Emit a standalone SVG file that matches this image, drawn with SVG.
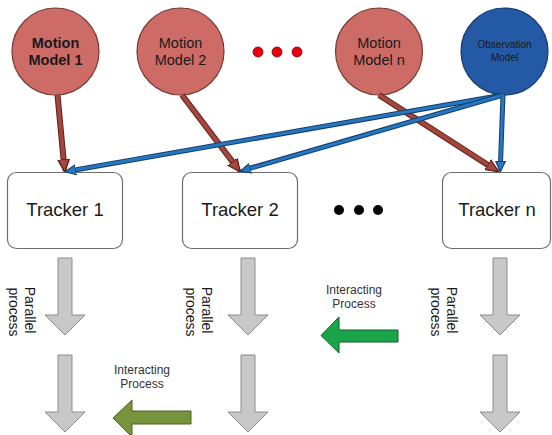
<svg xmlns="http://www.w3.org/2000/svg" width="552" height="435" viewBox="0 0 552 435">
  <style>
    text { font-family: "Liberation Sans", Arial, sans-serif; fill: #1a1a1a; }
    .motion { fill: #cd6c67; stroke: #7b3934; stroke-width: 1.2; }
    .obs { fill: #2459a6; stroke: #1a3b70; stroke-width: 1.2; }
    .mlabel { font-size: 14.5px; text-anchor: middle; }
    .olabel { font-size: 10px; text-anchor: middle; }
    .tracker { fill: #ffffff; stroke: #6e6e6e; stroke-width: 1.2; }
    .tlabel { font-size: 18.5px; text-anchor: middle; }
    .gray { fill: #c8c8c8; stroke: #8c8c8c; stroke-width: 1; }
    .plabel { font-size: 14px; text-anchor: middle; }
    .ilabel { font-size: 12px; text-anchor: middle; fill: #333; }
    .brown-o { stroke: #5a201a; stroke-width: 6; fill: none; }
    .brown-i { stroke: #a4463c; stroke-width: 4; fill: none; }
    .blue-o { stroke: #123e6a; stroke-width: 5; fill: none; }
    .blue-i { stroke: #2677c0; stroke-width: 3; fill: none; }
  </style>
  <defs>
    <marker id="headBrown" viewBox="0 0 10 10" refX="9" refY="5" markerUnits="userSpaceOnUse" markerWidth="13" markerHeight="13" orient="auto">
      <path d="M0,0.5 L10,5 L0,9.5 Z" fill="#a4463c" stroke="#5a201a" stroke-width="1"/>
    </marker>
    <marker id="headBlue" viewBox="0 0 10 10" refX="9" refY="5" markerUnits="userSpaceOnUse" markerWidth="11" markerHeight="11" orient="auto">
      <path d="M0,0.5 L10,5 L0,9.5 Z" fill="#2677c0" stroke="#123e6a" stroke-width="1"/>
    </marker>
  </defs>

  <!-- model circles -->
  <g id="motion-model-1">
    <circle class="motion" cx="55.5" cy="51.5" r="43.5"/>
    <text class="mlabel" x="55.5" y="48" font-weight="bold">Motion</text>
    <text class="mlabel" x="55.5" y="65" font-weight="bold">Model 1</text>
  </g>
  <g id="motion-model-2">
    <circle class="motion" cx="180.5" cy="51.5" r="43.5"/>
    <text class="mlabel" x="180.5" y="48">Motion</text>
    <text class="mlabel" x="180.5" y="65">Model 2</text>
  </g>
  <g id="model-ellipsis">
    <circle cx="258" cy="52" r="5" fill="#e8000b" stroke="#8a0006" stroke-width="0.8"/>
    <circle cx="277" cy="52" r="5" fill="#e8000b" stroke="#8a0006" stroke-width="0.8"/>
    <circle cx="297" cy="52" r="5" fill="#e8000b" stroke="#8a0006" stroke-width="0.8"/>
  </g>
  <g id="motion-model-n">
    <circle class="motion" cx="379" cy="51.5" r="43.5"/>
    <text class="mlabel" x="379" y="48">Motion</text>
    <text class="mlabel" x="379" y="65">Model n</text>
  </g>
  <g id="observation-model">
    <circle class="obs" cx="504.5" cy="51.5" r="43.5"/>
    <text class="olabel" x="504.5" y="48">Observation</text>
    <text class="olabel" x="504.5" y="61">Model</text>
  </g>

  <!-- trackers -->
  <g id="tracker-1">
    <rect class="tracker" x="7.5" y="172.5" width="115" height="76" rx="9"/>
    <text class="tlabel" x="65" y="216">Tracker 1</text>
  </g>
  <g id="tracker-2">
    <rect class="tracker" x="182.5" y="172.5" width="115" height="76" rx="9"/>
    <text class="tlabel" x="240" y="216">Tracker 2</text>
  </g>
  <g id="tracker-ellipsis">
    <circle cx="339" cy="210" r="5" fill="#000"/>
    <circle cx="359" cy="210" r="5" fill="#000"/>
    <circle cx="378" cy="210" r="5" fill="#000"/>
  </g>
  <g id="tracker-n">
    <rect class="tracker" x="442.5" y="172.5" width="108" height="76" rx="9"/>
    <text class="tlabel" x="497" y="216">Tracker n</text>
  </g>

  <!-- model-to-tracker connectors -->
  <g id="connectors">
    <line class="brown-o" x1="57.5" y1="95" x2="64" y2="164"/>
    <line class="brown-i" x1="57.5" y1="95" x2="64.7" y2="171" marker-end="url(#headBrown)"/>
    <line class="brown-o" x1="182" y1="95" x2="235" y2="165"/>
    <line class="brown-i" x1="182" y1="95" x2="239.5" y2="171" marker-end="url(#headBrown)"/>
    <line class="brown-o" x1="379" y1="95" x2="491" y2="167"/>
    <line class="brown-i" x1="379" y1="95" x2="497.5" y2="171" marker-end="url(#headBrown)"/>

    <line class="blue-o" x1="503" y1="95" x2="75" y2="170"/>
    <line class="blue-i" x1="503" y1="95" x2="66" y2="171.5" marker-end="url(#headBlue)"/>
    <line class="blue-o" x1="503" y1="95" x2="249" y2="168.5"/>
    <line class="blue-i" x1="503" y1="95" x2="241" y2="171" marker-end="url(#headBlue)"/>
    <line class="blue-o" x1="503" y1="95" x2="500.5" y2="163"/>
    <line class="blue-i" x1="503" y1="95" x2="500.2" y2="171" marker-end="url(#headBlue)"/>
  </g>

  <!-- parallel process arrows -->
  <g id="parallel-1">
    <path class="gray" d="M58,258 H72 V315 H85 L65,335 L45,315 H58 Z"/>
    <path class="gray" d="M58,355 H72 V412 H85 L65,432 L45,412 H58 Z"/>
    <text class="plabel" transform="translate(24.5,312) rotate(90)">
      <tspan x="0" y="0">Parallel</tspan>
      <tspan x="0" y="15.5">process</tspan>
    </text>
  </g>
  <g id="parallel-2">
    <path class="gray" d="M241,258 H255 V315 H268 L248,335 L228,315 H241 Z"/>
    <path class="gray" d="M241,355 H255 V412 H268 L248,432 L228,412 H241 Z"/>
    <text class="plabel" transform="translate(201.5,312) rotate(90)">
      <tspan x="0" y="0">Parallel</tspan>
      <tspan x="0" y="15.5">process</tspan>
    </text>
  </g>
  <g id="parallel-n">
    <path class="gray" d="M493,258 H507 V315 H520 L500,335 L480,315 H493 Z"/>
    <path class="gray" d="M493,355 H507 V412 H520 L500,432 L480,412 H493 Z"/>
    <text class="plabel" transform="translate(446.5,312) rotate(90)">
      <tspan x="0" y="0">Parallel</tspan>
      <tspan x="0" y="15.5">process</tspan>
    </text>
  </g>

  <!-- interacting process arrows -->
  <g id="interacting-1">
    <text class="ilabel" x="354" y="294">Interacting</text>
    <text class="ilabel" x="354" y="308">Process</text>
    <path d="M398,330 V342 H339 V353 L321,335.5 L339,317 V330 Z" fill="#1aa548" stroke="#0f5c28" stroke-width="1"/>
  </g>
  <g id="interacting-2">
    <text class="ilabel" x="142" y="374">Interacting</text>
    <text class="ilabel" x="142" y="388">Process</text>
    <path d="M191,411 V424 H132 V437 L113,418 L132,400 V411 Z" fill="#77933c" stroke="#4d6126" stroke-width="1"/>
  </g>
</svg>
